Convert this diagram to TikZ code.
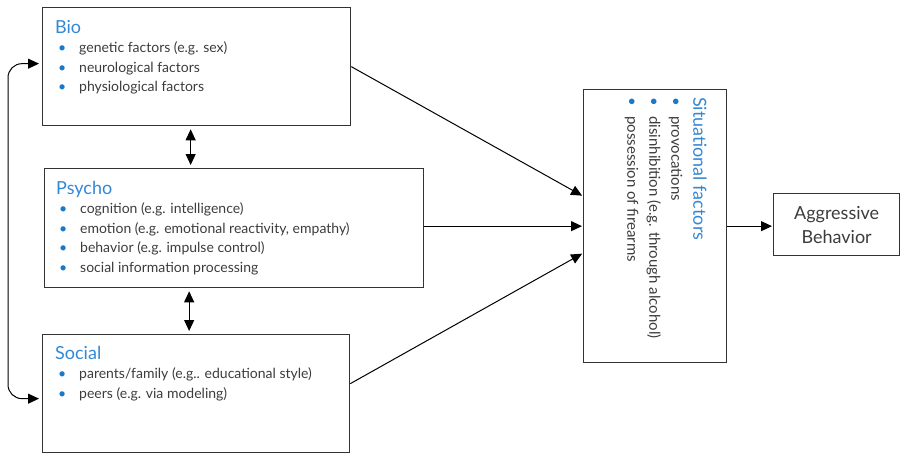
\documentclass[tikz,border=0pt]{standalone}
\usepackage{fontspec}
\setmainfont{Lato}
\usepackage{tikz}
\usetikzlibrary{calc,positioning,arrows.meta}
\definecolor{headblue}{HTML}{3388D4}
\definecolor{dotblue}{HTML}{1A78C8}
\definecolor{bodygray}{HTML}{3C3C3C}
\tikzset{
  >={Triangle[length=11pt,width=10pt]},
  factorbox/.style={rectangle, draw=black!80, line width=1.3pt, inner sep=0pt, anchor=north west},
  factortext/.style={anchor=base west, inner sep=0pt, text=bodygray,
                     font=\fontsize{14}{19.5}\selectfont},
  line/.style={draw, line width=1pt, ->, shorten >=1pt},
  twoway/.style={draw, line width=1pt, <->, shorten >=3pt, shorten <=3pt}
}
\newcommand{\boxtitle}[1]{\textcolor{headblue}{\fontsize{18}{19.5}\selectfont #1}}
\newcommand{\dotitem}[1]{\makebox[24pt][l]{\hspace{3pt}\textcolor{dotblue}{\textbullet}}#1}
\newcommand{\sititem}[1]{\makebox[19pt][l]{\textcolor{dotblue}{\textbullet}}#1}

\begin{document}
\begin{tikzpicture}[x=1pt,y=-1pt]
  \useasboundingbox (0,0) rectangle (900,453);

  % The three factor boxes on the left.
  \node[factorbox, minimum width=308pt, minimum height=118pt] (bio) at (42,7) {};
  \node[factorbox, minimum width=379pt, minimum height=119pt] (psycho) at (44,168) {};
  \node[factorbox, minimum width=307pt, minimum height=118pt] (social) at (42,334) {};

  \node[factortext] (bio text) at ($(bio.north west)+(13,26)$) {%
    \begin{tabular}[t]{@{}l@{}}
      \boxtitle{Bio}\\
      \dotitem{genetic factors (e.g. sex)}\\
      \dotitem{neurological factors}\\
      \dotitem{physiological factors}
    \end{tabular}};
  \node[factortext] (psycho text) at ($(psycho.north west)+(12,26)$) {%
    \begin{tabular}[t]{@{}l@{}}
      \boxtitle{Psycho}\\
      \dotitem{cognition (e.g. intelligence)}\\
      \dotitem{emotion (e.g. emotional reactivity, empathy)}\\
      \dotitem{behavior (e.g. impulse control)}\\
      \dotitem{social information processing}
    \end{tabular}};
  \node[factortext] (social text) at ($(social.north west)+(13,25)$) {%
    \begin{tabular}[t]{@{}l@{}}
      \boxtitle{Social}\\
      \dotitem{parents/family (e.g.. educational style)}\\
      \dotitem{peers (e.g. via modeling)}
    \end{tabular}};

  % Situational factors, written sideways.
  \node[factorbox, minimum width=143pt, minimum height=273pt] (situation) at (583,89) {};
  \node[factortext, rotate=-90, font=\fontsize{15}{22}\selectfont] (situation text)
    at ($(situation.north east)+(-34,8)$) {%
    \begin{tabular}[t]{@{}l@{}}
      \boxtitle{Situational factors}\\
      \sititem{provocations}\\
      \sititem{disinhibition (e.g. through alcohol)}\\
      \sititem{possession of firearms}
    \end{tabular}};

  % Outcome box.
  \node[factorbox, minimum width=126pt, minimum height=62pt, align=center, text=bodygray,
        font=\fontsize{18}{24}\selectfont] (aggression) at (773,193) {Aggressive\\Behavior};

  % Arrows into and out of the situational box.
  \draw[line] (bio.east) -- ([yshift=30pt]situation.west);
  \draw[line] (psycho.east |- situation.west) -- (situation.west);
  \draw[line] ([yshift=10pt]social.east) -- ([yshift=-27pt]situation.west);
  \draw[line] (situation.east) -- (situation.east -| aggression.west);

  % Links between the factor boxes.
  \draw[twoway] ([xshift=-6pt]bio.south) -- ([xshift=-6pt]bio.south |- psycho.north);
  \draw[twoway] ([xshift=-7pt]social.north |- psycho.south) -- ([xshift=-7pt]social.north);
  \coordinate (loop side) at (8,0);
  \draw[twoway, rounded corners=14pt] ([yshift=3pt]bio.west) -- ([yshift=3pt]bio.west -| loop side)
    -- ([yshift=-5pt]social.west -| loop side) -- ([yshift=-5pt]social.west);
\end{tikzpicture}
\end{document}
